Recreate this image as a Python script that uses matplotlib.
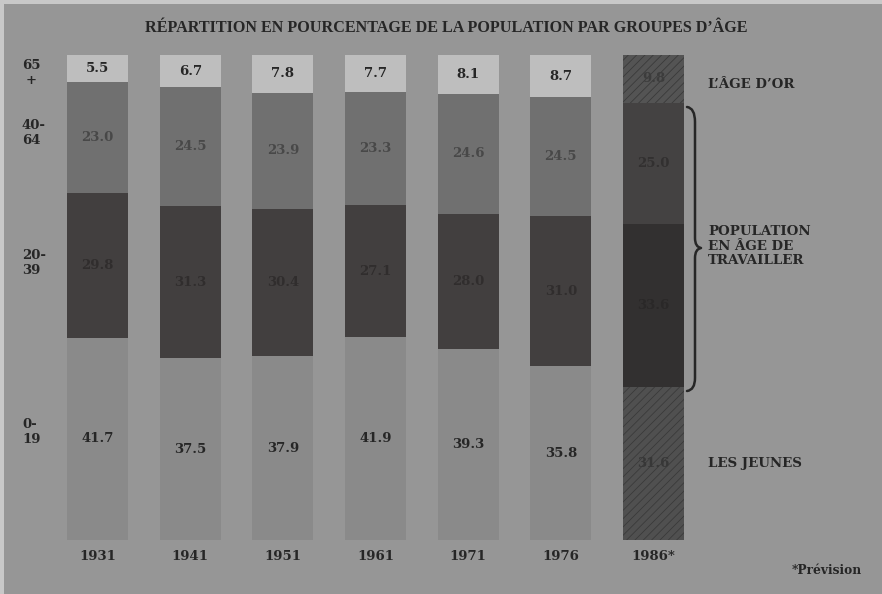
import numpy as np
import matplotlib
matplotlib.use('Agg')
import matplotlib.pyplot as plt
from matplotlib.path import Path
from matplotlib.patches import PathPatch, Rectangle

# Data (percent of population per age group)
years = ['1931', '1941', '1951', '1961', '1971', '1976', '1986*']
age_0_19 = [41.7, 37.5, 37.9, 41.9, 39.3, 35.8, 31.6]
age_20_39 = [29.8, 31.3, 30.4, 27.1, 28.0, 31.0, 33.6]
age_40_64 = [23.0, 24.5, 23.9, 23.3, 24.6, 24.5, 25.0]
age_65_plus = [5.5, 6.7, 7.8, 7.7, 8.1, 8.7, 9.8]
forecast = [False, False, False, False, False, False, True]

group_labels = ['0-\n19', '20-\n39', '40-\n64', '65\n+']
side_labels = ['LES JEUNES', 'POPULATION\nEN ÂGE DE\nTRAVAILLER', 'L\u2019ÂGE D\u2019OR']
title = 'RÉPARTITION EN POURCENTAGE DE LA POPULATION PAR GROUPES D\u2019ÂGE'

def g(v):
    return (v / 255, v / 255, v / 255)

BG = g(150)
INK = g(38)
seg_colors = [g(138), (66/255, 63/255, 63/255), g(112), g(190)]
fc_colors = [g(80), (50/255, 48/255, 48/255), (68/255, 66/255, 66/255), g(84)]
fc_hatch = [True, False, False, True]
txt_colors = [INK, (48/255, 45/255, 45/255), g(72), INK]
fc_txt = [(55/255, 55/255, 55/255), (42/255, 40/255, 40/255), (50/255, 48/255, 48/255), g(60)]

plt.rcParams['hatch.linewidth'] = 0.6
SERIF = ['DejaVu Serif']

W, H = 882, 594
fig = plt.figure(figsize=(W / 100, H / 100), dpi=100, facecolor=BG)

# bar axes: bars span x 67..684 px, y 55..540 px
ax = fig.add_axes([67 / W, (H - 540) / H, (684 - 67) / W, (540 - 55) / H])
ax.set_facecolor('none')
ax.set_xlim(-0.33, len(years) - 1 + 0.33)
ax.set_ylim(0, 100)
ax.axis('off')

x = np.arange(len(years))
series = [age_0_19, age_20_39, age_40_64, age_65_plus]
bottom = np.zeros(len(years))
for k, vals in enumerate(series):
    vals = np.array(vals)
    for i in range(len(years)):
        if forecast[i]:
            ax.bar(x[i], vals[i], bottom=bottom[i], width=0.66, color=fc_colors[k],
                   edgecolor=g(58) if fc_hatch[k] else fc_colors[k], linewidth=0,
                   hatch='////' if fc_hatch[k] else None)
            tc = fc_txt[k]
        else:
            ax.bar(x[i], vals[i], bottom=bottom[i], width=0.66, color=seg_colors[k], linewidth=0)
            tc = txt_colors[k]
        ax.text(x[i], bottom[i] + vals[i] / 2, f'{vals[i]:.1f}', ha='center', va='center',
                fontsize=9.5, fontweight='bold', family=SERIF, color=tc)
    bottom += vals

for i, yr in enumerate(years):
    ax.text(x[i], -3.5, yr, ha='center', va='center', fontsize=9.5, fontweight='bold',
            family=SERIF, color=INK, clip_on=False)

# overlay in pixel coordinates for labels and brace
ov = fig.add_axes([0, 0, 1, 1])
ov.set_xlim(0, W)
ov.set_ylim(H, 0)
ov.axis('off')
ov.set_facecolor('none')

# light paper edges
ov.add_patch(Rectangle((0, 0), W, 4, color=g(200), lw=0))
ov.add_patch(Rectangle((0, 0), 4, H, color=g(200), lw=0))

ov.text(446, 28, title, ha='center', va='center', fontsize=11.6, fontweight='bold',
        family=['Liberation Serif'], color=INK)

group_y = [432, 263, 133, 73]
for lab, yy in zip(group_labels, group_y):
    ov.text(22, yy, lab, ha='left', va='center', fontsize=9.5, fontweight='bold',
            family=SERIF, color=INK, linespacing=1.15,
            multialignment='center' if '+' in lab else 'left')

side_y = [463, 246, 85]
for lab, yy in zip(side_labels, side_y):
    ov.text(708, yy, lab, ha='left', va='center', fontsize=9.6, fontweight='bold',
            family=SERIF, color=INK, linespacing=1.15)

ov.text(862, 571, '*Prévision', ha='right', va='center', fontsize=8.8, fontweight='bold',
        family=SERIF, color=INK)

# curly brace next to the working-age groups
verts = [(687, 107), (695, 108), (695, 122),
         (695, 238),
         (695, 247), (701, 248),
         (695, 249), (695, 258),
         (695, 378),
         (695, 390), (687, 391)]
codes = [Path.MOVETO, Path.CURVE3, Path.CURVE3,
         Path.LINETO,
         Path.CURVE3, Path.CURVE3,
         Path.CURVE3, Path.CURVE3,
         Path.LINETO,
         Path.CURVE3, Path.CURVE3]
ov.add_patch(PathPatch(Path(verts, codes), fill=False, edgecolor=INK, lw=1.8,
                       capstyle='round', joinstyle='round'))

fig.savefig('out.png', dpi=100, facecolor=BG)
